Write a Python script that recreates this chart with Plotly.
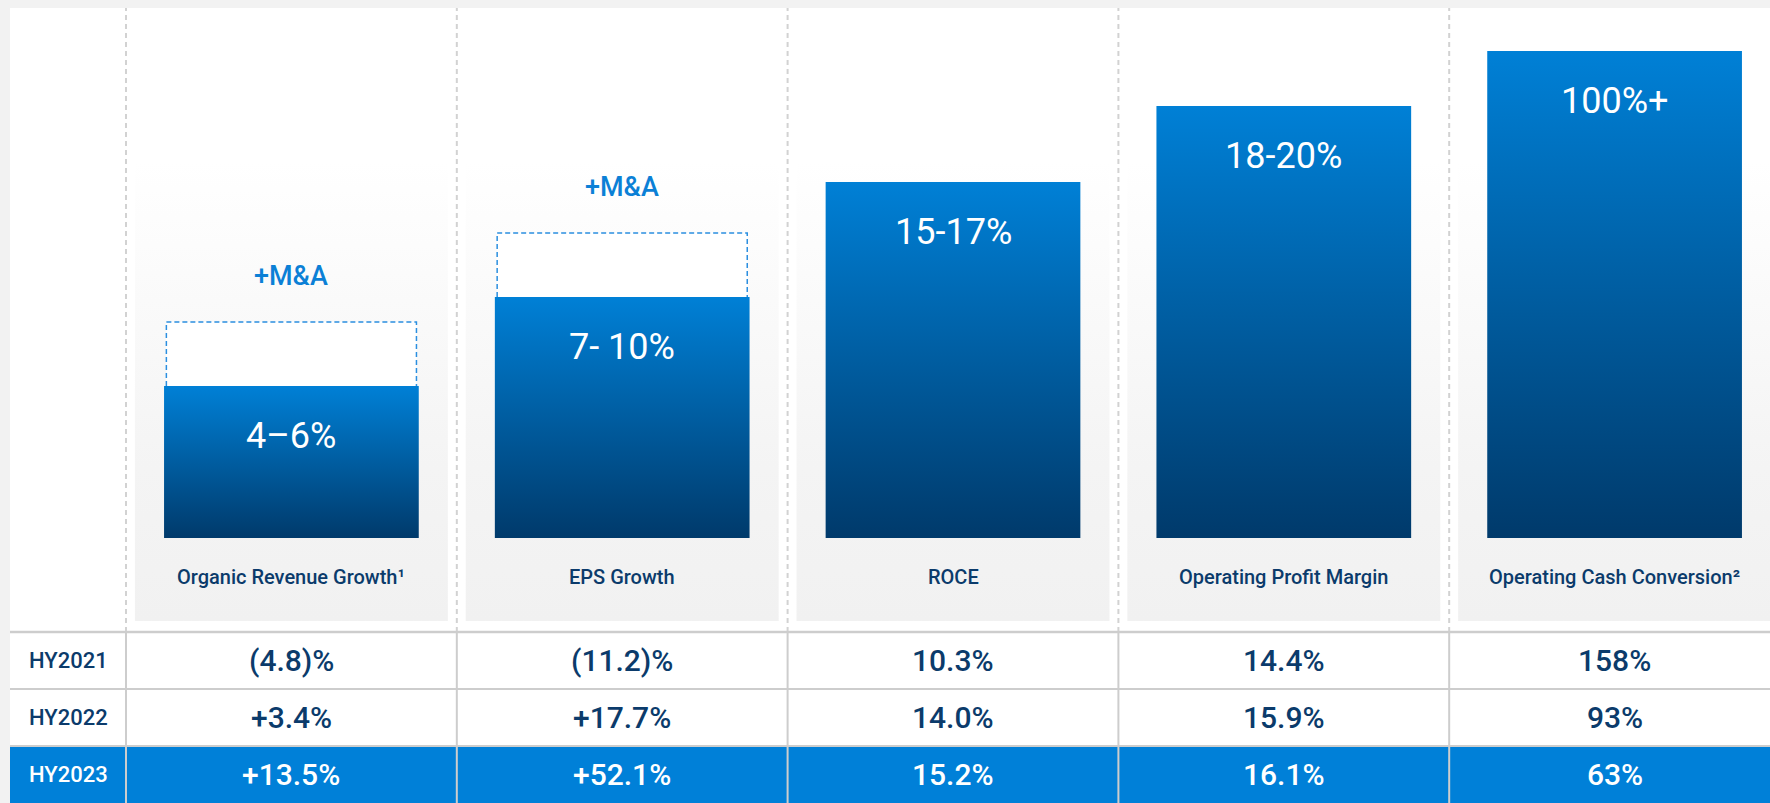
import plotly.graph_objects as go

# ---------------- data ----------------
categories = ["Organic Revenue Growth", "EPS Growth", "ROCE",
              "Operating Profit Margin", "Operating Cash Conversion"]
footnotes = ["\u00b9", "", "", "", "\u00b2"]
target_labels = ["4\u20136%", "7- 10%", "15-17%", "18-20%", "100%+"]
bar_height = [1.52, 2.41, 3.56, 4.32, 4.87]          # illustrative target heights
ma_height = [2.16, 3.05, None, None, None]          # incl. M&A uplift
ma_label = "+M&A"
periods = ["HY2021", "HY2022", "HY2023"]
hy2021 = ["(4.8)%", "(11.2)%", "10.3%", "14.4%", "158%"]
hy2022 = ["+3.4%", "+17.7%", "14.0%", "15.9%", "93%"]
hy2023 = ["+13.5%", "+52.1%", "15.2%", "16.1%", "63%"]
table_rows = [hy2021, hy2022, hy2023]

# ---------------- style ----------------
FONT = "Roboto, 'DejaVu Sans', Arial, sans-serif"
NAVY = "#0b3b6b"
BLUE = "#0080d8"
MA_BLUE = "#0b80d6"
BAR_TOP = "#0080d6"
BAR_BOT = "#003a6b"
GRID = "#cdcdcd"

X_MIN, X_MAX = -0.8507, 4.4698
Y_MIN, Y_MAX = -2.65, 5.30
PANEL_HALF = 0.473
BAR_HALF = 0.385
BOX_HALF = 0.378
PANEL_BOTTOM = -0.83
TABLE_TOP = -0.94
ROW_H = (TABLE_TOP - Y_MIN) / len(periods)
LABEL_COL_X = (X_MIN + -0.5) / 2

fig = go.Figure()
n = len(categories)

# panels with vertical gradient
for i in range(n):
    fig.add_trace(go.Scatter(
        x=[i - PANEL_HALF, i + PANEL_HALF, i + PANEL_HALF, i - PANEL_HALF, i - PANEL_HALF],
        y=[PANEL_BOTTOM, PANEL_BOTTOM, Y_MAX, Y_MAX, PANEL_BOTTOM],
        mode="lines", line=dict(width=0), fill="toself",
        fillgradient=dict(type="vertical",
                          colorscale=[[0, "#f1f1f1"], [0.25, "#f4f4f4"], [0.75, "#ffffff"], [1, "#ffffff"]],
                          start=PANEL_BOTTOM, stop=Y_MAX),
        hoverinfo="skip", showlegend=False))

# M&A dashed boxes (white inside)
for i, mh in enumerate(ma_height):
    if mh is None:
        continue
    h = bar_height[i]
    fig.add_trace(go.Scatter(
        x=[i - BOX_HALF, i - BOX_HALF, i + BOX_HALF, i + BOX_HALF],
        y=[h, mh, mh, h],
        mode="lines", line=dict(color="#2b8fe0", width=1.5, dash="5px,3px"),
        fill="toself", fillcolor="white",
        hoverinfo="skip", showlegend=False))

# target bars with gradient
for i, h in enumerate(bar_height):
    fig.add_trace(go.Scatter(
        x=[i - BAR_HALF, i + BAR_HALF, i + BAR_HALF, i - BAR_HALF, i - BAR_HALF],
        y=[0, 0, h, h, 0],
        mode="lines", line=dict(width=0), fill="toself",
        fillgradient=dict(type="vertical",
                          colorscale=[[0, BAR_BOT], [1, BAR_TOP]],
                          start=0, stop=h),
        hoverinfo="skip", showlegend=False))

shapes = []
# HY2023 highlighted row
shapes.append(dict(type="rect", xref="x", yref="y", x0=X_MIN, x1=X_MAX,
                   y0=TABLE_TOP - 2 * ROW_H, y1=Y_MIN, fillcolor=BLUE,
                   line=dict(width=0), layer="above"))
# dashed column separators (upper) and solid (table)
for i in range(n):
    xs = i - 0.5
    shapes.append(dict(type="line", xref="x", yref="y", x0=xs, x1=xs,
                       y0=TABLE_TOP, y1=Y_MAX,
                       line=dict(color="#d2d2d2", width=2, dash="5px,4px"), layer="below"))
    shapes.append(dict(type="line", xref="x", yref="y", x0=xs, x1=xs,
                       y0=TABLE_TOP, y1=Y_MIN,
                       line=dict(color=GRID, width=2), layer="above"))
# horizontal table lines
for r in range(len(periods)):
    yy = TABLE_TOP - r * ROW_H
    shapes.append(dict(type="line", xref="x", yref="y", x0=X_MIN, x1=X_MAX,
                       y0=yy, y1=yy, line=dict(color=GRID, width=2.5 if r == 0 else 2),
                       layer="above"))

annotations = []
for i in range(n):
    h = bar_height[i]
    annotations.append(dict(x=i, y=h - 0.50, xref="x", yref="y", text=target_labels[i],
                            showarrow=False, yanchor="middle",
                            font=dict(family=FONT, size=36, color="white")))
    if ma_height[i] is not None:
        annotations.append(dict(x=i, y=ma_height[i] + 0.46, xref="x", yref="y", text=ma_label,
                                showarrow=False, yanchor="middle",
                                font=dict(family=FONT, size=27, color=MA_BLUE, weight=500)))
    lab = categories[i] + footnotes[i]
    annotations.append(dict(x=i, y=-0.39, xref="x", yref="y", text=lab,
                            showarrow=False, yanchor="middle",
                            font=dict(family=FONT, size=20, color=NAVY, weight=500)))

for r, period in enumerate(periods):
    yc = TABLE_TOP - (r + 0.5) * ROW_H
    col = "white" if r == len(periods) - 1 else NAVY
    annotations.append(dict(x=LABEL_COL_X, y=yc, xref="x", yref="y", text=period,
                            showarrow=False, yanchor="middle",
                            font=dict(family=FONT, size=22, color=col, weight=500)))
    for i in range(n):
        annotations.append(dict(x=i, y=yc, xref="x", yref="y", text=table_rows[r][i],
                                showarrow=False, yanchor="middle",
                                font=dict(family=FONT, size=30, color=col, weight=500)))

fig.update_layout(
    width=1770, height=803,
    margin=dict(l=10, r=0, t=8, b=0),
    paper_bgcolor="#f2f2f2", plot_bgcolor="white",
    xaxis=dict(range=[X_MIN, X_MAX], visible=False, fixedrange=True),
    yaxis=dict(range=[Y_MIN, Y_MAX], visible=False, fixedrange=True),
    shapes=shapes, annotations=annotations, showlegend=False,
    font=dict(family=FONT),
)

fig.write_html("out.html", config={"displayModeBar": False},
               post_script="document.body.style.margin='0px';document.body.style.overflow='hidden';")
